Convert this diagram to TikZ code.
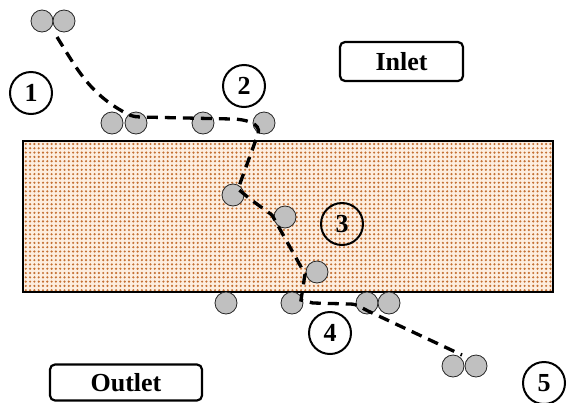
\documentclass[tikz,border=0pt]{standalone}
\usepackage{fontspec}
\setmainfont{Liberation Serif}
\usetikzlibrary{patterns.meta}

\definecolor{grain}{RGB}{196,112,50}
\definecolor{grainbg}{RGB}{253,238,224}
\definecolor{partgray}{RGB}{192,192,192}

\tikzset{
  particle/.style = {circle, draw = black!85, fill = partgray, line width = 0.8pt,
    minimum size = 22pt, inner sep = 0pt},
  stage/.style = {circle, draw, line width = 2pt, minimum size = 42pt, inner sep = 0pt,
    font = \bfseries\fontsize{26}{26}\selectfont},
  portbox/.style = {draw, line width = 2.2pt, rounded corners = 5pt, inner sep = 0pt,
    font = \bfseries\fontsize{26}{26}\selectfont},
  track/.style = {line width = 3.3pt, dash pattern = on 11pt off 7pt}
}

\begin{document}
\begin{tikzpicture}[x = 1pt, y = -1pt]

      \useasboundingbox (0, 0) rectangle (567, 402);

      \fill [grainbg] (23, 141) rectangle (553, 292);
      \fill [pattern = {Dots[distance = 4.3pt, radius = 1.2pt]}, pattern color = grain]
        (23, 141) rectangle (553, 292);
      \draw [line width = 2pt] (23, 141) rectangle (553, 292);

      \node[portbox, minimum width = 123pt, minimum height = 39pt] (inlet) at (401.5, 61.5) {Inlet};
      \node[portbox, minimum width = 152pt, minimum height = 36pt] (outlet) at (126, 382.5) {Outlet};

      \node[particle] (p1a) at (42, 21) {};
      \node[particle] (p1b) at (64, 21) {};
      \node[particle] (s1) at (112, 123) {};
      \node[particle] (s2) at (136, 123) {};
      \node[particle] (s3) at (203, 123) {};
      \node[particle] (s4) at (264, 123) {};
      \node[particle] (m1) at (233, 195) {};
      \node[particle] (m2) at (285, 217) {};
      \node[particle] (m3) at (317, 272) {};
      \node[particle] (b1) at (226, 303) {};
      \node[particle] (b2) at (292, 303) {};
      \node[particle] (b3) at (367, 303) {};
      \node[particle] (b4) at (389, 303) {};
      \node[particle] (e1) at (453, 366) {};
      \node[particle] (e2) at (476, 366) {};

      \node[stage] (n1) at (31, 93) {1};
      \node[stage] (n2) at (244, 86) {2};
      \node[stage] (n3) at (342, 224) {3};
      \node[stage] (n4) at (330, 333) {4};
      \node[stage] (n5) at (544, 383) {5};

      \draw[track] (57, 37) to[out = -58, in = 150] (122, 111)
        to[out = -30, in = 180] (140, 117) -- (232, 119)
        to[out = 0, in = 70] (258, 134) -- (238, 189) -- (250, 199)
        -- (272, 215) -- (305, 274) -- (301, 300) -- (313, 303)
        -- (350, 304) to[out = 0, in = 155] (368, 311) -- (462, 355);

    \end{tikzpicture}
\end{document}
